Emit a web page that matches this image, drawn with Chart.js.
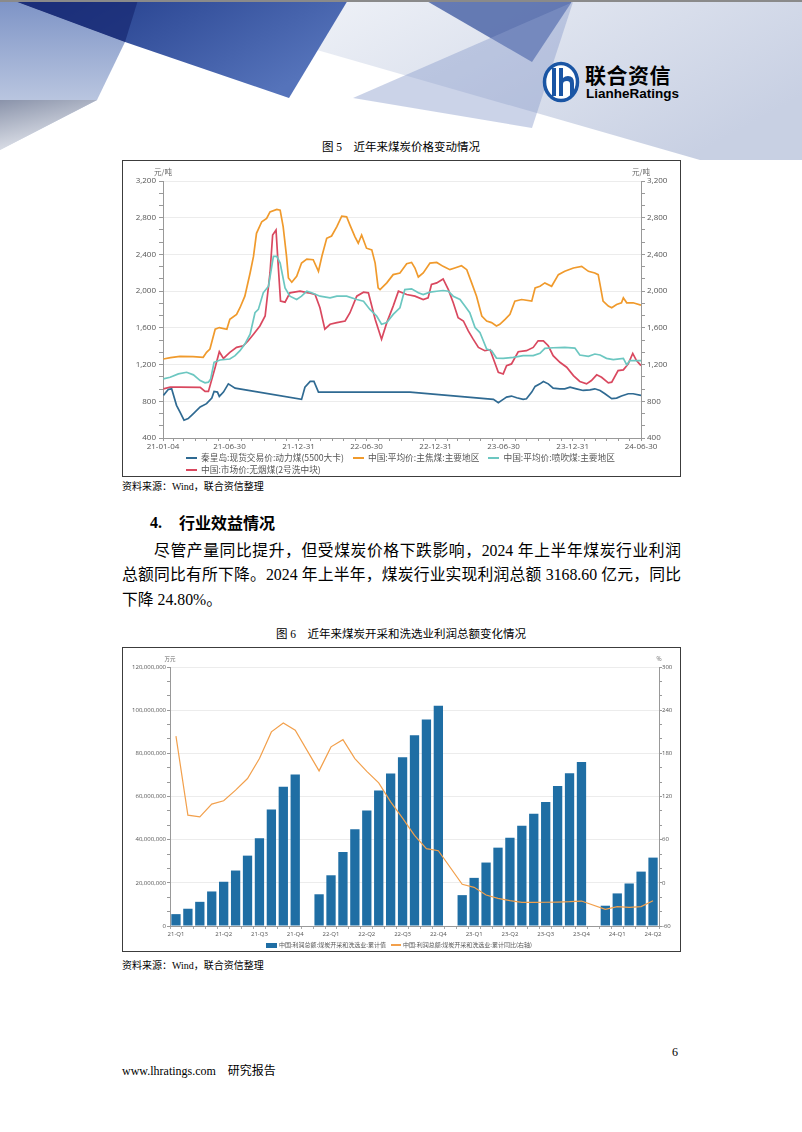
<!DOCTYPE html>
<html lang="zh">
<head>
<meta charset="utf-8">
<script src="https://cdn.jsdelivr.net/npm/chart.js@4.4.1/dist/chart.umd.min.js"></script>
<style>
  html, body { margin: 0; padding: 0; background: #fff; }
  #page { position: relative; width: 802px; height: 1132px; overflow: hidden; color: #000;
          font-family: "Liberation Serif", "Noto Sans CJK SC", serif; }
  .abs { position: absolute; }
  .box { position: absolute; left: 122px; width: 559px; box-sizing: border-box; border: 1px solid #3c3c3c; background: #fff; }
  .caption { position: absolute; left: 0; width: 802px; text-align: center; font-size: 11.5px; line-height: 14px; }
  .src { position: absolute; left: 122px; font-size: 10px; line-height: 12px; }
  .para { position: absolute; left: 122px; width: 559px; font-size: 15.8px; line-height: 24px; white-space: nowrap;
          text-align: justify; text-align-last: justify; }
  .legend { position: absolute; font-family: "Noto Sans CJK SC", sans-serif; color: #555; white-space: nowrap; display: flex; flex-wrap: wrap; }
  .legend .item { display: inline-flex; align-items: center; }
  .legend .mark { display: inline-block; }
</style>
</head>
<body>
<div id="page">

  <!-- header decoration -->
  <svg class="abs" style="left:0;top:0" width="802" height="160">
    <defs>
      <linearGradient id="wash" x1="0" y1="0" x2="1" y2="0.6">
        <stop offset="0" stop-color="#eef1f7"/>
        <stop offset="1" stop-color="#c8d0e3"/>
      </linearGradient>
      <linearGradient id="band" x1="0" y1="0" x2="1" y2="0.5">
        <stop offset="0" stop-color="#1c3685"/>
        <stop offset="1" stop-color="#5573ba"/>
      </linearGradient>
      <linearGradient id="leftg" x1="0" y1="0" x2="0" y2="1">
        <stop offset="0" stop-color="#7d93c6"/>
        <stop offset="1" stop-color="#d7deec"/>
      </linearGradient>
      <linearGradient id="greyg" x1="0" y1="0" x2="0.4" y2="1">
        <stop offset="0" stop-color="#8a93aa"/>
        <stop offset="1" stop-color="#e4e7ee"/>
      </linearGradient>
    </defs>
    <polygon points="330,0 802,0 802,160 700,160 317,50" fill="url(#wash)"/>
    <polygon points="0,0 12,0 125,42 97,100 0,150" fill="url(#leftg)"/>
    <polygon points="0,100 97,100 0,150" fill="url(#greyg)"/>
    <polygon points="12,0 348,0 289,98 125,42" fill="url(#band)"/>
    <polygon points="12,0 138,0 125,42" fill="#1a2b74" opacity="0.75"/>
    <polygon points="425,0 573,0 532,62" fill="#4d66a8" opacity="0.85"/>
    <polygon points="353,98 573,2 532,128" fill="#8c9ecb" opacity="0.45"/>
    <rect x="0" y="0" width="802" height="2" fill="#8a8a8a"/>
    <!-- logo -->
    <ellipse cx="561" cy="82" rx="16.5" ry="18.5" fill="#fff" stroke="#1a55a4" stroke-width="3.5"/>
    <rect x="552" y="68" width="4" height="28" fill="#1a55a4"/>
    <path d="M559 68 h4 v10 q2-2 5-2 q6 0 6 7 v13 h-4 v-12 q0-3-3-3 q-4 0-4 3 v12 h-4 z" fill="#1a55a4"/>
  </svg>
  <div class="abs" style="left:585px;top:61px;font:bold 21px 'Noto Sans CJK SC',sans-serif;line-height:26px;letter-spacing:0.5px;">联合资信</div>
  <div class="abs" style="left:586px;top:86px;font:bold 13.5px 'Liberation Sans Narrow','Liberation Sans',sans-serif;line-height:16px;">LianheRatings</div>

  <!-- figure 5 -->
  <div class="caption" style="top:140px;">图 5　近年来煤炭价格变动情况</div>
  <div class="box" style="top:160px;height:317px;"></div>
  <canvas id="priceChart" class="abs" style="left:123px;top:161px;" width="557" height="315"></canvas>
  <div id="priceLegend" class="legend" style="left:186px;top:452px;width:455px;font-size:8.7px;line-height:12px;"></div>
  <div class="src" style="top:481px;">资料来源：Wind，联合资信整理</div>

  <!-- text -->
  <div class="abs" style="left:150px;top:512px;font-size:16px;line-height:22px;font-weight:bold;">4.</div>
  <div class="abs" style="left:179px;top:511px;font:bold 16px 'Noto Sans CJK SC',sans-serif;line-height:22px;">行业效益情况</div>
  <div class="para" style="top:539px;left:154px;width:527px;">尽管产量同比提升，但受煤炭价格下跌影响，2024 年上半年煤炭行业利润</div>
  <div class="para" style="top:563px;">总额同比有所下降。2024 年上半年，煤炭行业实现利润总额 3168.60 亿元，同比</div>
  <div class="para" style="top:588px;text-align:left;text-align-last:left;">下降 24.80%。</div>

  <!-- figure 6 -->
  <div class="caption" style="top:627px;">图 6　近年来煤炭开采和洗选业利润总额变化情况</div>
  <div class="box" style="top:647px;height:305px;"></div>
  <canvas id="profitChart" class="abs" style="left:123px;top:648px;" width="557" height="303"></canvas>
  <div id="profitLegend" class="legend" style="left:123px;top:941px;width:557px;justify-content:center;font-size:6px;line-height:8px;"></div>
  <div class="src" style="top:960px;">资料来源：Wind，联合资信整理</div>

  <!-- footer -->
  <div class="abs" style="left:672px;top:1045px;font-size:12px;">6</div>
  <div class="abs" style="left:122px;top:1061px;font-size:12px;">www.lhratings.com　研究报告</div>
</div>

<script>
// ---------------- 图5 煤炭价格 (元/吨) ----------------
// x = days since 21-01-04
var priceTickDates = ['21-01-04', '21-06-30', '21-12-31', '22-06-30', '22-12-31', '23-06-30', '23-12-31', '24-06-30'];
var priceNames = ['秦皇岛:现货交易价:动力煤(5500大卡)', '中国:平均价:主焦煤:主要地区', '中国:平均价:喷吹煤:主要地区', '中国:市场价:无烟煤(2号洗中块)'];

var qhdDays = [1, 14, 23, 36, 45, 56, 67, 81, 99, 116, 130, 136, 145, 150, 161, 174, 192, 369, 378, 392, 402, 414, 658, 880, 893, 906, 915, 928, 942, 959, 968, 982, 991, 1004, 1013, 1026, 1039, 1057, 1070, 1084, 1101, 1119, 1137, 1150, 1164, 1177, 1195, 1208, 1221, 1239, 1252, 1273];
var qhdPrice = [864, 929, 936, 756, 684, 594, 612, 666, 738, 774, 835, 907, 900, 853, 900, 990, 943, 821, 954, 1016, 1016, 900, 900, 821, 785, 821, 846, 857, 839, 821, 828, 900, 962, 990, 1016, 990, 943, 936, 936, 954, 936, 918, 925, 936, 918, 882, 828, 835, 857, 882, 882, 864];

var cokingDays = [1, 20, 45, 80, 107, 116, 125, 139, 150, 170, 178, 196, 205, 218, 232, 241, 249, 263, 276, 285, 303, 312, 320, 329, 334, 343, 356, 369, 383, 400, 414, 423, 436, 449, 463, 476, 489, 498, 511, 520, 529, 542, 556, 565, 573, 578, 596, 613, 631, 649, 662, 671, 680, 693, 711, 729, 746, 764, 777, 795, 809, 822, 835, 849, 862, 875, 888, 897, 911, 924, 937, 955, 982, 991, 1004, 1017, 1035, 1053, 1070, 1093, 1115, 1133, 1150, 1159, 1164, 1172, 1186, 1195, 1208, 1221, 1226, 1235, 1252, 1273];
var cokingPrice = [1261, 1275, 1289, 1286, 1279, 1333, 1369, 1585, 1603, 1585, 1693, 1747, 1819, 1945, 2198, 2378, 2630, 2756, 2792, 2864, 2890, 2882, 2702, 2378, 2144, 2097, 2162, 2306, 2349, 2342, 2216, 2378, 2576, 2601, 2702, 2818, 2810, 2720, 2594, 2522, 2612, 2468, 2450, 2306, 2035, 2017, 2090, 2180, 2198, 2299, 2313, 2252, 2154, 2198, 2306, 2313, 2270, 2234, 2252, 2277, 2234, 2090, 1945, 1729, 1675, 1657, 1621, 1639, 1693, 1747, 1891, 1909, 1891, 2035, 2053, 2090, 2053, 2180, 2216, 2252, 2270, 2216, 2198, 2180, 2072, 1891, 1837, 1819, 1855, 1873, 1927, 1873, 1873, 1848];

var pciDays = [1, 19, 41, 63, 81, 99, 112, 121, 127, 136, 152, 178, 192, 205, 218, 232, 245, 254, 267, 281, 294, 303, 312, 325, 338, 356, 369, 383, 396, 418, 445, 463, 489, 516, 534, 551, 569, 582, 596, 613, 631, 644, 662, 680, 693, 711, 729, 746, 760, 773, 791, 804, 817, 831, 844, 853, 862, 875, 888, 906, 933, 959, 986, 1004, 1017, 1039, 1070, 1097, 1110, 1133, 1150, 1164, 1181, 1199, 1226, 1235, 1243, 1273];
var pciPrice = [1044, 1062, 1098, 1116, 1088, 1026, 1001, 1008, 1044, 1225, 1250, 1261, 1297, 1351, 1423, 1531, 1765, 1801, 1982, 2054, 2378, 2378, 2306, 2035, 1945, 1909, 1945, 1999, 1982, 1945, 1927, 1945, 1945, 1909, 1891, 1801, 1729, 1639, 1657, 1747, 1819, 2017, 2025, 1982, 1963, 1989, 1999, 2007, 1999, 1945, 1909, 1837, 1765, 1603, 1549, 1459, 1369, 1351, 1271, 1268, 1279, 1297, 1297, 1322, 1376, 1383, 1387, 1380, 1304, 1289, 1315, 1304, 1268, 1253, 1268, 1196, 1243, 1243];

var anthDays = [1, 19, 45, 99, 112, 121, 139, 150, 161, 178, 196, 214, 227, 241, 258, 272, 285, 292, 301, 307, 313, 325, 338, 365, 387, 405, 418, 431, 445, 463, 485, 498, 516, 534, 547, 565, 582, 596, 613, 627, 649, 671, 693, 706, 715, 729, 746, 760, 773, 786, 800, 813, 826, 840, 857, 871, 880, 893, 906, 915, 928, 946, 968, 986, 999, 1013, 1026, 1039, 1057, 1075, 1093, 1110, 1128, 1141, 1155, 1168, 1186, 1195, 1212, 1226, 1239, 1251, 1261, 1273];
var anthPrice = [936, 954, 954, 951, 907, 907, 1171, 1340, 1268, 1333, 1387, 1405, 1459, 1531, 1621, 1729, 2198, 2612, 2666, 2270, 1891, 1880, 1982, 2000, 1982, 1963, 1819, 1585, 1639, 1657, 1675, 1765, 1945, 1989, 1982, 1693, 1477, 1657, 1837, 2000, 1963, 1945, 1909, 1927, 2072, 2090, 2133, 2017, 1873, 1711, 1675, 1567, 1477, 1387, 1351, 1362, 1261, 1116, 1098, 1189, 1207, 1340, 1351, 1387, 1459, 1459, 1405, 1297, 1225, 1171, 1080, 1016, 990, 1026, 1088, 1062, 1001, 1008, 1135, 1142, 1207, 1322, 1243, 1189];

// ---------------- 图6 煤炭开采和洗选业利润总额 ----------------
var months = ['2021-02', '2021-03', '2021-04', '2021-05', '2021-06', '2021-07', '2021-08', '2021-09', '2021-10', '2021-11', '2021-12',
  '2022-01', '2022-02', '2022-03', '2022-04', '2022-05', '2022-06', '2022-07', '2022-08', '2022-09', '2022-10', '2022-11', '2022-12',
  '2023-01', '2023-02', '2023-03', '2023-04', '2023-05', '2023-06', '2023-07', '2023-08', '2023-09', '2023-10', '2023-11', '2023-12',
  '2024-01', '2024-02', '2024-03', '2024-04', '2024-05', '2024-06'];
// 累计值 (万元)
var profitSum = [5500000, 8000000, 11200000, 16000000, 20500000, 25700000, 32600000, 40600000, 54000000, 64500000, 70200000,
  null, 14700000, 23500000, 34300000, 44800000, 53500000, 62800000, 70700000, 78200000, 88400000, 95700000, 102000000,
  null, 14300000, 22300000, 29400000, 36300000, 40900000, 46500000, 52000000, 57400000, 64900000, 70800000, 76000000,
  null, 9400000, 15100000, 19700000, 25200000, 31686000];
// 累计同比 (%)
var profitYoY = [203.8, 94.1, 91.8, 109.4, 114.0, 128.8, 145.0, 172.8, 209.8, 222.3, 212.1,
  null, 155.6, 189.0, 199.0, 172.7, 155.0, 139.0, 112.6, 90.0, 66.0, 47.5, 44.6,
  null, -2.0, -6.3, -17.0, -21.6, -24.8, -27.1, -27.1, -27.0, -26.7, -26.2, -25.3,
  null, -36.8, -33.1, -34.1, -33.1, -24.8];
var quarterMonths = ['2021-02', '2021-06', '2021-09', '2021-12', '2022-03', '2022-06', '2022-09', '2022-12', '2023-03', '2023-06', '2023-09', '2023-12', '2024-03', '2024-06'];
var quarterLabels = ['21-Q1', '21-Q2', '21-Q3', '21-Q4', '22-Q1', '22-Q2', '22-Q3', '22-Q4', '23-Q1', '23-Q2', '23-Q3', '23-Q4', '24-Q1', '24-Q2'];
var profitNames = ['中国:利润总额:煤炭开采和洗选业:累计值', '中国:利润总额:煤炭开采和洗选业:累计同比(右轴)'];

// ---------------- helpers ----------------
var START = Date.UTC(2021, 0, 4);
function dayOf(s) {
  var p = s.split('-');
  return (Date.UTC(2000 + (+p[0]), p[1] - 1, +p[2]) - START) / 864e5;
}
function pairs(xs, ys) {
  return xs.map(function (x, i) { return { x: x, y: ys[i] }; });
}
// major ticks every `step`, with (parts-1) unlabeled minor ticks between
function minorTicks(step, parts) {
  return function (scale) {
    var n = Math.round((scale.max - scale.min) / step) * parts;
    var t = [];
    for (var i = 0; i <= n; i++) t.push({ value: scale.min + i * step / parts, major: i % parts === 0 });
    scale.ticks = t;
  };
}
function gridColor(c) { return c.tick && c.tick.major ? '#ececec' : 'rgba(0,0,0,0)'; }
var tickFont = '"Open Sans", "Noto Sans", sans-serif';

// small unit text above both y axes
var unitLabels = {
  id: 'unitLabels',
  afterDraw: function (chart, args, o) {
    var ctx = chart.ctx, a = chart.chartArea;
    ctx.save();
    ctx.font = o.size + 'px "Noto Sans CJK SC", sans-serif';
    ctx.fillStyle = '#666';
    ctx.textAlign = 'center';
    ctx.textBaseline = 'middle';
    ctx.fillText(o.left, a.left, a.top - o.gap);
    ctx.fillText(o.right, a.right, a.top - o.gap);
    ctx.restore();
  }
};

// ---------------- Chart 1 ----------------
var labelDays = priceTickDates.map(dayOf);
var lastDay = labelDays[labelDays.length - 1];

var priceChart = new Chart(document.getElementById('priceChart'), {
  type: 'line',
  data: {
    datasets: [
      { label: priceNames[0], data: pairs(qhdDays, qhdPrice), borderColor: '#2f6a92' },
      { label: priceNames[1], data: pairs(cokingDays, cokingPrice), borderColor: '#f09a2c' },
      { label: priceNames[2], data: pairs(pciDays, pciPrice), borderColor: '#6cc7c1' },
      { label: priceNames[3], data: pairs(anthDays, anthPrice), borderColor: '#d9485f' }
    ]
  },
  plugins: [unitLabels],
  options: {
    responsive: false,
    animation: false,
    layout: { padding: { top: 20, bottom: 22, left: 0, right: 0 } },
    elements: { point: { radius: 0 }, line: { borderWidth: 1.7, tension: 0 } },
    plugins: {
      legend: { display: false },
      tooltip: { enabled: false },
      unitLabels: { left: '元/吨', right: '元/吨', size: 7.5, gap: 9 }
    },
    scales: {
      x: {
        type: 'linear', min: 0, max: lastDay,
        afterBuildTicks: function (scale) {
          var t = [{ value: 0 }];
          for (var y = 2021; y <= 2024; y++) {
            for (var m = 0; m < 12; m++) {
              var d = (Date.UTC(y, m + 1, 0) - START) / 864e5;
              if (d > 0 && d <= lastDay) t.push({ value: d });
            }
          }
          scale.ticks = t;
        },
        afterFit: function (s) { s.height = 16; },
        grid: { drawOnChartArea: false, tickLength: 3, tickColor: '#999' },
        border: { color: '#999' },
        ticks: {
          autoSkip: false, maxRotation: 0, padding: 1, color: '#555',
          font: { family: tickFont, size: 8 },
          callback: function (v) {
            var k = labelDays.indexOf(Math.round(v));
            return k >= 0 ? priceTickDates[k] : '';
          }
        }
      },
      y: {
        position: 'left', min: 400, max: 3200,
        afterBuildTicks: minorTicks(400, 3),
        afterFit: function (s) { s.width = 40; },
        grid: { color: gridColor, tickLength: 4, tickColor: '#999' },
        border: { color: '#999' },
        ticks: {
          autoSkip: false, padding: 3, color: '#555', font: { family: tickFont, size: 8 },
          callback: function (v, i, t) { return t[i].major ? v.toLocaleString('en-US') : ''; }
        }
      },
      y2: {
        position: 'right', min: 400, max: 3200,
        afterBuildTicks: minorTicks(400, 3),
        afterFit: function (s) { s.width = 39; },
        grid: { drawOnChartArea: false, tickLength: 4, tickColor: '#999' },
        border: { color: '#999' },
        ticks: {
          autoSkip: false, padding: 2, color: '#555', font: { family: tickFont, size: 8 },
          callback: function (v, i, t) { return t[i].major ? v.toLocaleString('en-US') : ''; }
        }
      }
    }
  }
});

// ---------------- Chart 2 ----------------
var profitChart = new Chart(document.getElementById('profitChart'), {
  type: 'bar',
  data: {
    labels: months,
    datasets: [
      { type: 'bar', label: profitNames[0], data: profitSum, yAxisID: 'y', backgroundColor: '#1f6ea4',
        categoryPercentage: 1, barPercentage: 0.78, order: 2 },
      { type: 'line', label: profitNames[1], data: profitYoY, yAxisID: 'y2', borderColor: '#f2a04c',
        borderWidth: 1.2, pointRadius: 0, tension: 0, spanGaps: true, order: 1 }
    ]
  },
  plugins: [unitLabels],
  options: {
    responsive: false,
    animation: false,
    layout: { padding: { top: 19, bottom: 11, left: 0, right: 0 } },
    plugins: {
      legend: { display: false },
      tooltip: { enabled: false },
      unitLabels: { left: '万元', right: '%', size: 5.5, gap: 8.5 }
    },
    scales: {
      x: {
        afterFit: function (s) { s.height = 14; },
        grid: { drawOnChartArea: false, tickLength: 3, tickColor: '#aaa' },
        border: { color: '#999' },
        ticks: {
          autoSkip: false, maxRotation: 0, padding: 2, color: '#555',
          font: { family: tickFont, size: 6 },
          callback: function (v, i) {
            var k = quarterMonths.indexOf(months[i]);
            return k >= 0 ? quarterLabels[k] : '';
          }
        }
      },
      y: {
        position: 'left', min: 0, max: 120000000,
        afterBuildTicks: minorTicks(20000000, 3),
        afterFit: function (s) { s.width = 47; },
        grid: { color: gridColor, tickLength: 3, tickColor: '#999' },
        border: { color: '#999' },
        ticks: {
          autoSkip: false, padding: 1, color: '#555', font: { family: tickFont, size: 6 },
          callback: function (v, i, t) { return t[i].major ? v.toLocaleString('en-US') : ''; }
        }
      },
      y2: {
        position: 'right', min: -60, max: 300,
        afterBuildTicks: minorTicks(60, 3),
        afterFit: function (s) { s.width = 21; },
        grid: { drawOnChartArea: false, tickLength: 3, tickColor: '#999' },
        border: { color: '#999' },
        ticks: {
          autoSkip: false, padding: 0, color: '#555', font: { family: tickFont, size: 6 },
          callback: function (v, i, t) { return t[i].major ? String(Math.round(v)) : ''; }
        }
      }
    }
  }
});

// ---------------- HTML legends built from the datasets ----------------
function buildLegend(chart, el, o) {
  chart.data.datasets.forEach(function (ds) {
    var item = document.createElement('span');
    item.className = 'item';
    item.style.marginRight = o.gap + 'px';
    var mark = document.createElement('span');
    mark.className = 'mark';
    var isBar = (ds.type || chart.config.type) === 'bar';
    mark.style.width = (isBar ? o.boxW : o.lineW) + 'px';
    mark.style.height = (isBar ? o.boxH : o.lineH) + 'px';
    mark.style.background = isBar ? ds.backgroundColor : ds.borderColor;
    mark.style.marginRight = o.markGap + 'px';
    var txt = document.createElement('span');
    txt.textContent = ds.label;
    item.appendChild(mark);
    item.appendChild(txt);
    el.appendChild(item);
  });
}
buildLegend(priceChart, document.getElementById('priceLegend'), { gap: 9, lineW: 11, lineH: 2, markGap: 4 });
buildLegend(profitChart, document.getElementById('profitLegend'), { gap: 5, boxW: 11, boxH: 5, lineW: 10, lineH: 1.5, markGap: 2 });
</script>
</body>
</html>
